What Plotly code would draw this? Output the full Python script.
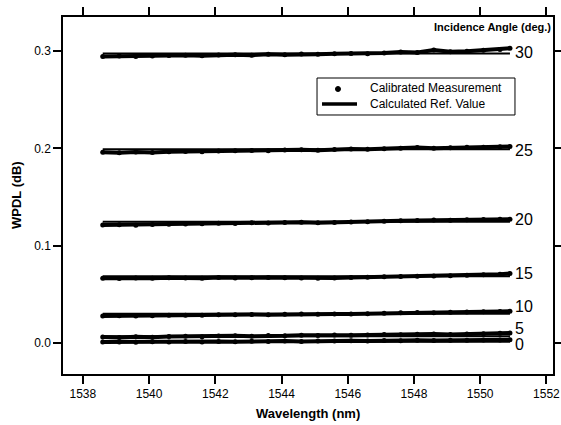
import plotly.graph_objects as go

wavelength = [1538.6, 1539.1, 1539.6, 1540.1, 1540.6, 1541.1, 1541.6, 1542.1, 1542.6,
              1543.1, 1543.6, 1544.1, 1544.6, 1545.1, 1545.6, 1546.1, 1546.6, 1547.1,
              1547.6, 1548.1, 1548.6, 1549.1, 1549.6, 1550.1, 1550.6, 1550.9]

angles = ["30", "25", "20", "15", "10", "5", "0"]

meas_30 = [0.2945, 0.2948, 0.2944, 0.2950, 0.2953, 0.2956, 0.2952, 0.2960, 0.2963, 0.2958,
           0.2966, 0.2962, 0.2970, 0.2968, 0.2972, 0.2975, 0.2973, 0.2980, 0.2990, 0.2985,
           0.3010, 0.2992, 0.2998, 0.3008, 0.3015, 0.3030]
meas_25 = [0.1960, 0.1955, 0.1962, 0.1958, 0.1965, 0.1968, 0.1966, 0.1972, 0.1975, 0.1978,
           0.1976, 0.1982, 0.1985, 0.1980, 0.1988, 0.1992, 0.1990, 0.1995, 0.2000, 0.2008,
           0.2002, 0.2005, 0.2010, 0.2012, 0.2015, 0.2018]
meas_20 = [0.1212, 0.1215, 0.1210, 0.1218, 0.1220, 0.1222, 0.1225, 0.1230, 0.1228, 0.1235,
           0.1232, 0.1238, 0.1240, 0.1236, 0.1238, 0.1242, 0.1245, 0.1250, 0.1255, 0.1258,
           0.1262, 0.1260, 0.1265, 0.1268, 0.1270, 0.1272]
meas_15 = [0.0665, 0.0662, 0.0668, 0.0665, 0.0670, 0.0667, 0.0665, 0.0672, 0.0668, 0.0670,
           0.0673, 0.0670, 0.0668, 0.0665, 0.0667, 0.0672, 0.0675, 0.0680, 0.0682, 0.0685,
           0.0688, 0.0690, 0.0695, 0.0700, 0.0705, 0.0712]
meas_10 = [0.0275, 0.0278, 0.0276, 0.0280, 0.0283, 0.0285, 0.0284, 0.0288, 0.0290, 0.0292,
           0.0290, 0.0294, 0.0296, 0.0295, 0.0298, 0.0296, 0.0300, 0.0305, 0.0310, 0.0312,
           0.0310, 0.0315, 0.0318, 0.0320, 0.0322, 0.0325]
meas_5 = [0.0060, 0.0055, 0.0062, 0.0058, 0.0065, 0.0068, 0.0062, 0.0070, 0.0072, 0.0068,
          0.0075, 0.0072, 0.0078, 0.0075, 0.0080, 0.0078, 0.0082, 0.0085, 0.0083, 0.0088,
          0.0090, 0.0087, 0.0092, 0.0095, 0.0098, 0.0102]
meas_0 = [0.0008, 0.0010, 0.0006, 0.0012, 0.0009, 0.0013, 0.0010, 0.0015, 0.0012, 0.0016,
          0.0014, 0.0018, 0.0015, 0.0020, 0.0018, 0.0022, 0.0020, 0.0024, 0.0022, 0.0026,
          0.0025, 0.0028, 0.0027, 0.0030, 0.0029, 0.0032]

ref_values = [0.2975, 0.1990, 0.1245, 0.0685, 0.0300, 0.0068, 0.0012]
ref_start = 1538.6
ref_end = 1550.9

label_x = 1550.98
label_y = [0.2984, 0.1980, 0.1272, 0.0714, 0.0377, 0.0145, -0.0015]

x_ticks = [1538, 1540, 1542, 1544, 1546, 1548, 1550, 1552]
y_ticks = [0.0, 0.1, 0.2, 0.3]
y_tick_text = ["0.0", "0.1", "0.2", "0.3"]

legend_labels = ["Calibrated Measurement", "Calculated Ref. Value"]

measurements = [meas_30, meas_25, meas_20, meas_15, meas_10, meas_5, meas_0]

FONT = "Liberation Sans, Arial, sans-serif"

fig = go.Figure()

for ang, ref in zip(angles, ref_values):
    fig.add_trace(go.Scatter(
        x=[ref_start, ref_end], y=[ref, ref], mode="lines",
        line=dict(color="black", width=2), showlegend=False, hoverinfo="skip"))

for ang, meas in zip(angles, measurements):
    fig.add_trace(go.Scatter(
        x=wavelength, y=meas, mode="lines+markers",
        line=dict(color="black", width=4),
        marker=dict(color="black", size=5),
        showlegend=False, name=ang + " deg"))

for ang, ly in zip(angles, label_y):
    fig.add_annotation(x=label_x, y=ly, text=ang, showarrow=False,
                       xanchor="left", yanchor="middle",
                       font=dict(family=FONT, size=16, color="black"))

fig.add_annotation(x=1, y=1, xref="paper", yref="paper", xanchor="right", yanchor="top",
                   text="<b>Incidence Angle (deg.)</b>", showarrow=False, yshift=-2,
                   font=dict(family=FONT, size=11, color="black"))

# hand-drawn legend box (compact, like the reference)
fig.add_shape(type="rect", xref="paper", yref="paper",
              x0=0.5184, x1=0.9224, y0=0.7255, y1=0.8291,
              line=dict(color="black", width=1), fillcolor="white", layer="above")
fig.add_shape(type="circle", xref="paper", yref="paper",
              xsizemode="pixel", ysizemode="pixel",
              xanchor=0.5612, yanchor=0.7983, x0=-2.5, x1=2.5, y0=-2.5, y1=2.5,
              line=dict(color="black", width=1), fillcolor="black", layer="above")
fig.add_shape(type="line", xref="paper", yref="paper",
              x0=0.5286, x1=0.6, y0=0.7563, y1=0.7563,
              line=dict(color="black", width=3.5), layer="above")
fig.add_annotation(x=0.6224, y=0.8006, xref="paper", yref="paper", xanchor="left",
                   yanchor="middle", text=legend_labels[0], showarrow=False,
                   font=dict(family=FONT, size=12, color="black"))
fig.add_annotation(x=0.6224, y=0.7554, xref="paper", yref="paper", xanchor="left",
                   yanchor="middle", text=legend_labels[1], showarrow=False,
                   font=dict(family=FONT, size=12, color="black"))

# axis titles
fig.add_annotation(x=0.5, y=0, xref="paper", yref="paper", xanchor="center", yanchor="top",
                   yshift=-30, text="<b>Wavelength (nm)</b>", showarrow=False,
                   font=dict(family=FONT, size=13, color="black"))
fig.add_annotation(x=0, y=0.5, xref="paper", yref="paper", xanchor="right", yanchor="middle",
                   xshift=-37, text="<b>WPDL (dB)</b>", showarrow=False, textangle=-90,
                   font=dict(family=FONT, size=13, color="black"))

axis_common = dict(
    showline=True, linecolor="black", linewidth=1.5, mirror="ticks",
    ticks="outside", ticklen=8, tickwidth=1.5, tickcolor="black",
    showgrid=False, zeroline=False, automargin=False,
    tickfont=dict(family=FONT, size=12, color="black"),
)

fig.update_xaxes(range=[1537.4, 1552.2], tickvals=x_ticks, **axis_common)
fig.update_yaxes(range=[-0.032, 0.335], tickvals=y_ticks, ticktext=y_tick_text,
                 **axis_common)

fig.update_layout(
    width=561, height=425,
    margin=dict(l=63, r=8, t=17, b=51, autoexpand=False),
    paper_bgcolor="white", plot_bgcolor="white",
    font=dict(family=FONT, size=12, color="black"),
    showlegend=False,
)

fig.write_html("out.html", config={"displayModeBar": False},
               post_script="document.body.style.margin='0';document.body.style.overflow='hidden';")
